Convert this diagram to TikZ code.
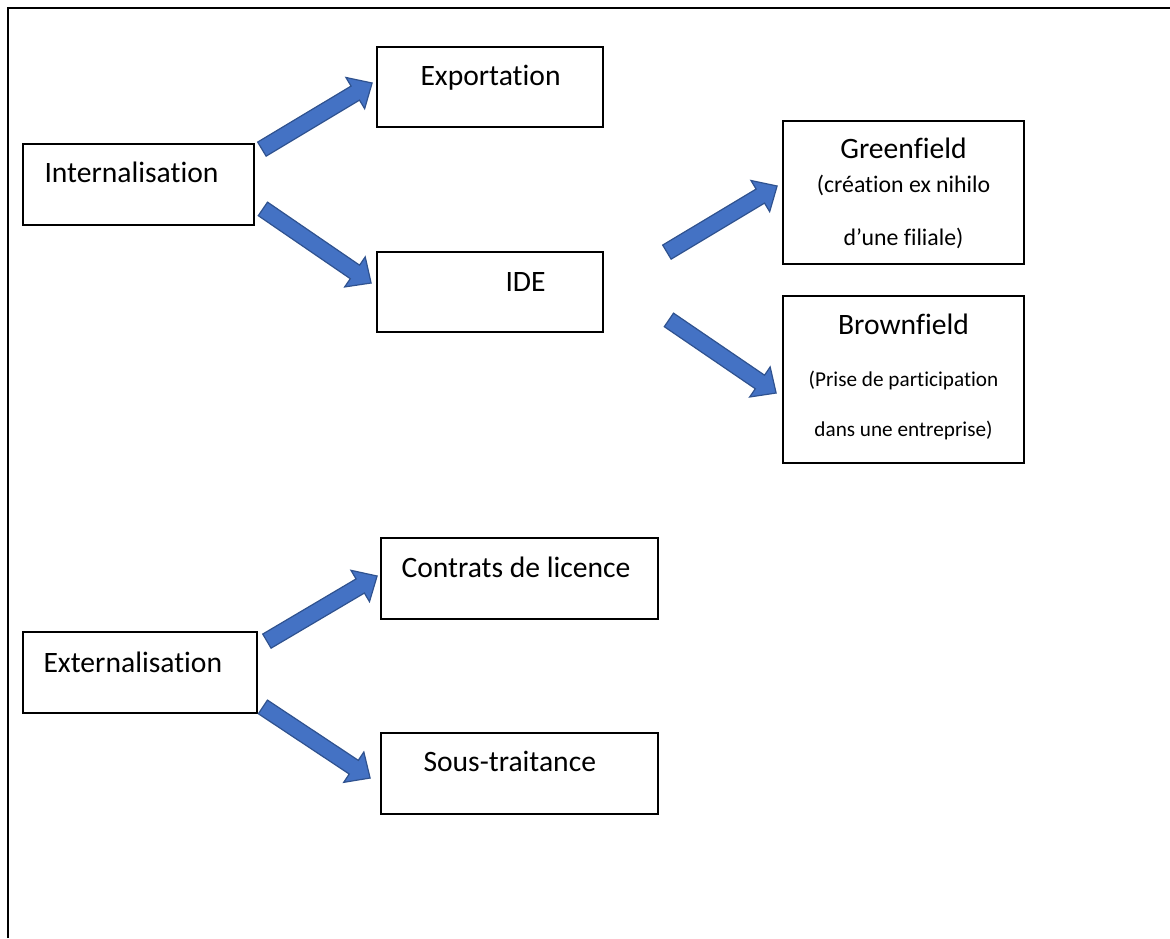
\documentclass[tikz,border=0pt]{standalone}
\usepackage{fontspec}
\setmainfont{Carlito}[Ligatures=CommonOff]
\usetikzlibrary{calc}
\definecolor{myarrowfill}{HTML}{4472C4}
\definecolor{myarrowline}{HTML}{2F528F}

\tikzset{
  box/.style={draw, line width=0.9pt, fill=white, rectangle, inner sep=0pt},
  boxtext/.style={anchor=base west, inner sep=0pt, font=\fontsize{14.8pt}{17pt}\selectfont},
  midtext/.style={anchor=base, inner sep=0pt, font=\fontsize{11.9pt}{14pt}\selectfont},
  smalltext/.style={anchor=base, inner sep=0pt, font=\fontsize{10.6pt}{12pt}\selectfont},
  fatarrow/.style={fill=myarrowfill, draw=myarrowline, line width=0.6pt, line join=miter},
  frame/.style={line width=1.4pt}
}
\newcommand{\blockarrow}[2]{%
  \coordinate (hb) at ($(#2)!9.8pt!(#1)$);%
  \filldraw[fatarrow] ($(#1)!4.1pt!90:(#2)$) -- ($(hb)!4.1pt!-90:(#1)$) -- ($(hb)!9.1pt!-90:(#1)$) -- (#2) -- ($(hb)!9.1pt!90:(#1)$) -- ($(hb)!4.1pt!90:(#1)$) -- ($(#1)!4.1pt!-90:(#2)$) -- cycle;%
}

\begin{document}
\begin{tikzpicture}[x=0.5pt, y=-0.5pt]%
\useasboundingbox (0,0) rectangle (1170,938);%
\draw[frame] (8,938) -- (8,8) -- (1170,8);%
\node[box, minimum width=115.5pt, minimum height=40.5pt] (int) at (138.5, 184.5) {};%
\node[box, minimum width=113pt, minimum height=40pt] (exp) at (490, 87) {};%
\node[box, minimum width=113pt, minimum height=40pt] (ide) at (490, 292) {};%
\node[box, minimum width=120.5pt, minimum height=71.5pt] (green) at (903.5, 192.5) {};%
\node[box, minimum width=120.5pt, minimum height=83.5pt] (brown) at (903.5, 379.5) {};%
\node[box, minimum width=138.5pt, minimum height=40.5pt] (con) at (519.5, 578.5) {};%
\node[box, minimum width=117pt, minimum height=40.5pt] (ext) at (140, 672.5) {};%
\node[box, minimum width=138.5pt, minimum height=40.5pt] (sous) at (519.5, 773.5) {};%
\node[boxtext] (int-t) at ($(int.north west)+(22, 39)$) {Internalisation};%
\node[boxtext] (exp-t) at ($(exp.north west)+(44, 39)$) {Exportation};%
\node[boxtext] (ide-t) at ($(ide.north west)+(129, 40)$) {IDE};%
\node[boxtext, anchor=base] (green-t) at ($(green.north)+(0, 38.6)$) {Greenfield};%
\node[midtext] (green-t2) at ($(green.north)+(0, 72.6)$) {(création ex nihilo};%
\node[midtext] (green-t3) at ($(green.north)+(0, 125.3)$) {d’une filiale)};%
\node[boxtext, anchor=base] (brown-t) at ($(brown.north)+(0, 39)$) {Brownfield};%
\node[smalltext] (brown-t2) at ($(brown.north)+(0, 91.3)$) {(Prise de participation};%
\node[smalltext] (brown-t3) at ($(brown.north)+(0, 141.7)$) {dans une entreprise)};%
\node[boxtext] (con-t) at ($(con.north west)+(21, 40)$) {Contrats de licence};%
\node[boxtext] (ext-t) at ($(ext.north west)+(21, 41)$) {Externalisation};%
\node[boxtext] (sous-t) at ($(sous.north west)+(43, 39)$) {Sous-traitance};%
\coordinate (a1s) at ($(int.north east)+(7, 6)$);%
\coordinate (a1e) at ($(exp.west)+(-4, -4)$);%
\coordinate (a2s) at ($(int.south east)+(8, -17)$);%
\coordinate (a2e) at ($(ide.west)+(-5, -9)$);%
\coordinate (a3s) at ($(ide.north east)+(63, 1)$);%
\coordinate (a3e) at ($(green.west)+(-5, -6.5)$);%
\coordinate (a4s) at ($(ide.south east)+(65, -13)$);%
\coordinate (a4e) at ($(brown.west)+(-6, 13.5)$);%
\coordinate (a5s) at ($(ext.north east)+(9, 10)$);%
\coordinate (a5e) at ($(con.west)+(-3, -2.5)$);%
\coordinate (a6s) at ($(ext.south east)+(5, -7)$);%
\coordinate (a6e) at ($(sous.west)+(-10, 4.5)$);%
\blockarrow{a1s}{a1e}%
\blockarrow{a2s}{a2e}%
\blockarrow{a3s}{a3e}%
\blockarrow{a4s}{a4e}%
\blockarrow{a5s}{a5e}%
\blockarrow{a6s}{a6e}%
\end{tikzpicture}
\end{document}
